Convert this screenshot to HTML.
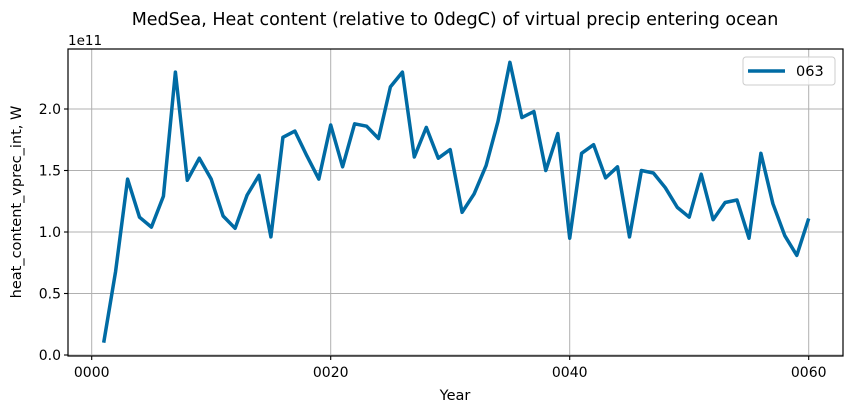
<!DOCTYPE html>
<html><head><meta charset="utf-8"><style>
body{margin:0;background:#fff;width:852px;height:412px;overflow:hidden;font-family:"Liberation Sans","DejaVu Sans",sans-serif}
svg text{font-family:"DejaVu Sans","Liberation Sans",sans-serif}
</style></head><body>
<svg id="chart" width="852" height="412" xmlns="http://www.w3.org/2000/svg">
<text x="455" y="25" font-size="17.5" text-anchor="middle">MedSea, Heat content (relative to 0degC) of virtual precip entering ocean</text>
<g id="grid"></g>
<g id="axes"></g>
<text x="68" y="45" font-size="13.5">1e11</text>
<text x="455" y="400" font-size="14.5" text-anchor="middle">Year</text>
<text transform="translate(21,202) rotate(-90)" font-size="14.5" text-anchor="middle">heat_content_vprec_int, W</text>
<path id="line" fill="none" stroke="#006ba4" stroke-width="3.5" stroke-linejoin="round"/>
<g>
<rect x="743" y="57" width="92" height="28" rx="3" fill="#fff" fill-opacity="0.8" stroke="#ccc"/>
<line x1="748" y1="71" x2="785" y2="71" stroke="#006ba4" stroke-width="3.5"/>
<text x="796" y="76" font-size="14.5">063</text>
</g>
</svg>
<script>
const years=[1,2,3,4,5,6,7,8,9,10,11,12,13,14,15,16,17,18,19,20,21,22,23,24,25,26,27,28,29,30,31,32,33,34,35,36,37,38,39,40,41,42,43,44,45,46,47,48,49,50,51,52,53,54,55,56,57,58,59,60];
const values=[0.10,0.68,1.43,1.12,1.04,1.29,2.30,1.42,1.60,1.43,1.13,1.03,1.30,1.46,0.96,1.77,1.82,1.62,1.43,1.87,1.53,1.88,1.86,1.76,2.18,2.30,1.61,1.85,1.60,1.67,1.16,1.31,1.54,1.90,2.38,1.93,1.98,1.50,1.80,0.95,1.64,1.71,1.44,1.53,0.96,1.50,1.48,1.36,1.20,1.12,1.47,1.10,1.24,1.26,0.95,1.64,1.23,0.97,0.81,1.11];
const xTicks=[0,20,40,60];
const xTickLabels=["0000","0020","0040","0060"];
const yTicks=[0,0.5,1.0,1.5,2.0];
const yTickLabels=["0.0","0.5","1.0","1.5","2.0"];
const L=68,R=843,T=49,B=356;
const X=v=>91.7+v*(808.7-91.7)/60;
const Y=v=>355-v*123;
const NS="http://www.w3.org/2000/svg";
const grid=document.getElementById('grid'),axes=document.getElementById('axes');
function mk(tag,attrs,parent){const e=document.createElementNS(NS,tag);for(const k in attrs)e.setAttribute(k,attrs[k]);parent.appendChild(e);return e;}
xTicks.forEach((t,i)=>{
 const g=mk('line',{x1:X(t),x2:X(t),y1:T,y2:B,stroke:'#b0b0b0','stroke-width':1},grid);
 
 
 mk('line',{x1:X(t),x2:X(t),y1:B,y2:B+4,stroke:'#000','stroke-width':1.1},axes);
 const tx=mk('text',{x:X(t),y:B+21,'font-size':14,'text-anchor':'middle'},axes);
 tx.textContent=xTickLabels[i];
 
 
});
yTicks.forEach((t,i)=>{
 const g=mk('line',{x1:L,x2:R,y1:Y(t),y2:Y(t),stroke:'#b0b0b0','stroke-width':1},grid);
 
 
 mk('line',{x1:L-4,x2:L,y1:Y(t),y2:Y(t),stroke:'#000','stroke-width':1.1},axes);
 const tx=mk('text',{x:L-7,y:Y(t)+5,'font-size':14,'text-anchor':'end'},axes);
 tx.textContent=yTickLabels[i];
 
 
});
const frame=mk('rect',{x:L,y:T,width:R-L,height:B-T,fill:'none',stroke:'#000','stroke-width':1.2},axes);


document.getElementById('line').setAttribute('d',years.map((y,i)=>(i?'L':'M')+X(y).toFixed(1)+','+Y(values[i]).toFixed(1)).join(''));
</script>
</body></html>
